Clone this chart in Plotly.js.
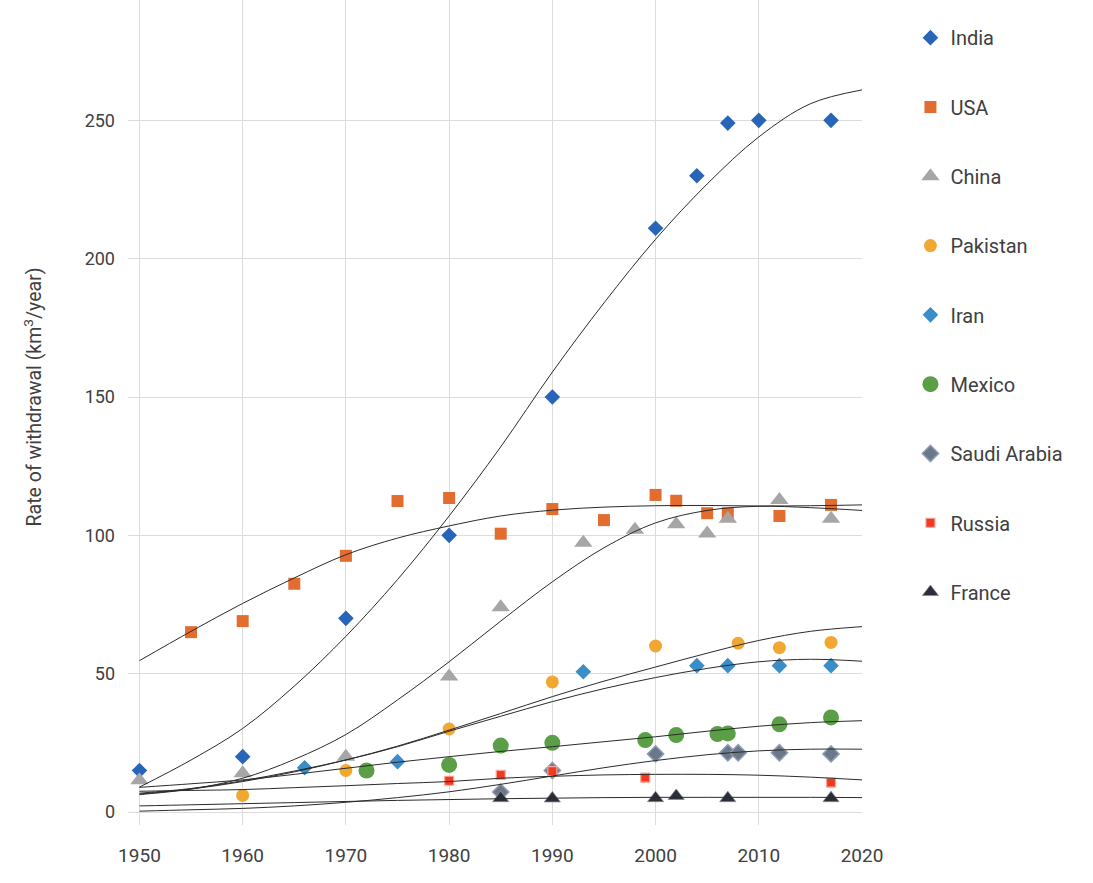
<!DOCTYPE html>
<html>
<head>
<meta charset="utf-8">
<script src="https://cdn.plot.ly/plotly-3.0.1.min.js"></script>
<style>
  html, body { margin: 0; padding: 0; background: #ffffff; }
  #chart { width: 1093px; height: 883px; }
</style>
</head>
<body>
<div id="chart"></div>
<script>
// ---- Data ----
const indiaYears = [1950, 1960, 1970, 1980, 1990, 2000, 2004, 2007, 2010, 2017];
const indiaVals  = [15, 20, 70, 100, 150, 211, 230, 249, 250, 250];

const usaYears = [1955, 1960, 1965, 1970, 1975, 1980, 1985, 1990, 1995, 2000, 2002, 2005, 2007, 2012, 2017];
const usaVals  = [65, 69, 82.5, 92.6, 112.4, 113.5, 100.6, 109.5, 105.5, 114.6, 112.5, 108, 108, 107, 111];

const chinaYears = [1950, 1960, 1970, 1980, 1985, 1993, 1998, 2002, 2005, 2007, 2012, 2017];
const chinaVals  = [11.5, 14, 20, 49, 74, 97.3, 102, 104, 100.7, 106, 112.8, 106];

const pakistanYears = [1960, 1970, 1980, 1990, 2000, 2008, 2012, 2017];
const pakistanVals  = [6, 15, 30, 47, 60, 61, 59.4, 61.3];

const iranYears = [1966, 1975, 1993, 2004, 2007, 2012, 2017];
const iranVals  = [16, 18.2, 50.7, 52.9, 52.9, 52.9, 52.9];

const mexicoYears = [1972, 1980, 1985, 1990, 1999, 2002, 2006, 2007, 2012, 2017];
const mexicoVals  = [15, 17, 24, 25, 26, 27.8, 28.2, 28.4, 31.7, 34.2];

const saudiYears = [1985, 1990, 2000, 2007, 2008, 2012, 2017];
const saudiVals  = [7.2, 15, 21, 21.4, 21.4, 21.4, 21];

const russiaYears = [1980, 1985, 1990, 1999, 2017];
const russiaVals  = [11.3, 13.4, 14.8, 12.4, 10.6];

const franceYears = [1985, 1990, 2000, 2002, 2007, 2017];
const franceVals  = [5, 4.9, 5, 5.8, 5, 5];

// Trend curves, every 5 years
const trendYears = [1950, 1955, 1960, 1965, 1970, 1975, 1980, 1985, 1990, 1995, 2000, 2005, 2010, 2015, 2020];
const indiaTrend    = [9, 18.8, 30.2, 45.5, 63.5, 84, 107, 132, 159, 184, 207, 227, 244, 256, 261];
const usaTrend      = [54.7, 65.3, 75.4, 84.6, 93, 99, 103.4, 107, 109.1, 110.2, 110.7, 110.8, 110.6, 110.7, 111];
const chinaTrend    = [6.3, 8.3, 12.2, 19, 28, 40.5, 54.3, 69, 83.2, 95.5, 104.5, 109, 110.5, 110, 109];
const pakistanTrend = [6.5, 8.3, 11, 14.5, 18.8, 23.8, 29.6, 35.6, 41.7, 47.3, 52.4, 57.4, 62, 65.3, 67];
const iranTrend     = [6.8, 8.5, 11.3, 14.8, 18.8, 23.6, 29.2, 34.6, 39.9, 44.6, 48.6, 51.9, 54.3, 55.2, 54.5];
const mexicoTrend   = [8.9, 10.2, 11.6, 13.6, 15.8, 18, 20, 21.9, 23.6, 25.4, 27.2, 29.2, 31, 32.3, 33];
const saudiTrend    = [0.3, 0.8, 1.3, 2.2, 3.5, 5.2, 7.3, 10, 13, 16, 18.6, 20.7, 22.1, 22.7, 22.7];
const russiaTrend   = [7.5, 7.8, 8.1, 8.8, 9.5, 10.3, 11, 12.2, 12.9, 13.4, 13.6, 13.6, 13.3, 12.6, 11.6];
const franceTrend   = [2.2, 2.6, 3.0, 3.4, 3.8, 4.2, 4.5, 4.8, 5.0, 5.2, 5.3, 5.3, 5.3, 5.3, 5.2];

const xTickVals = [1950, 1960, 1970, 1980, 1990, 2000, 2010, 2020];
const yTickVals = [0, 50, 100, 150, 200, 250];

// ---- Build traces ----
function pts(name, xs, ys, marker, grp) {
  return { type: 'scatter', mode: 'markers', name: name, x: xs, y: ys,
           marker: marker, legendgroup: grp, showlegend: true, hoverinfo: 'x+y+name' };
}
function trend(xs, ys) {
  return { type: 'scatter', mode: 'lines', x: xs, y: ys, showlegend: false,
           line: { color: '#2b2b2b', width: 1, shape: 'spline', smoothing: 1.0 }, hoverinfo: 'skip' };
}

const traces = [
  pts('India', indiaYears, indiaVals, { symbol: 'diamond', size: 12, color: '#2865b8' }, 'g1'),
  pts('USA', usaYears, usaVals, { symbol: 'square', size: 12, color: '#e36c2f' }, 'g2'),
  pts('China', chinaYears, chinaVals, { symbol: 'triangle-up', size: 16, color: '#a6a6a6' }, 'g3'),
  pts('Pakistan', pakistanYears, pakistanVals, { symbol: 'circle', size: 13, color: '#f0a832' }, 'g4'),
  pts('Iran', iranYears, iranVals, { symbol: 'diamond', size: 12, color: '#3b8dc8' }, 'g5'),
  pts('Mexico', mexicoYears, mexicoVals, { symbol: 'circle', size: 16, color: '#5a9e47' }, 'g6'),
  pts('Saudi Arabia', saudiYears, saudiVals, { symbol: 'diamond', size: 12.5, color: '#6b788b', line: { color: '#8f9bb0', width: 1.5 } }, 'g7'),
  pts('Russia', russiaYears, russiaVals, { symbol: 'square', size: 9, color: '#f23a22', line: { color: '#f7a896', width: 1.2 } }, 'g8'),
  pts('France', franceYears, franceVals, { symbol: 'triangle-up', size: 14, color: '#2a2e38', line: { color: '#8a8a8a', width: 0.8 } }, 'g9'),
  trend(trendYears, indiaTrend),
  trend(trendYears, usaTrend),
  trend(trendYears, chinaTrend),
  trend(trendYears, pakistanTrend),
  trend(trendYears, iranTrend),
  trend(trendYears, mexicoTrend),
  trend(trendYears, saudiTrend),
  trend(trendYears, russiaTrend),
  trend(trendYears, franceTrend)
];

const layout = {
  width: 1093, height: 883,
  paper_bgcolor: '#ffffff', plot_bgcolor: '#ffffff',
  margin: { l: 128, r: 231, t: 0, b: 58, pad: 0 },
  font: { family: 'Roboto, "Noto Sans", sans-serif', color: '#404040', size: 17 },
  showlegend: true,
  legend: {
    x: 1.066, xanchor: 'left', y: 0.978, yanchor: 'top',
    font: { family: 'Roboto, sans-serif', size: 20, color: '#404040' },
    tracegroupgap: 40.3, bgcolor: 'rgba(0,0,0,0)', itemclick: false
  },
  xaxis: {
    range: [1948.89, 2020], tickmode: 'array', tickvals: xTickVals,
    ticktext: xTickVals.map(String),
    showgrid: true, gridcolor: '#dcdcdc', gridwidth: 1,
    zeroline: false, showline: false, ticks: '',
    ticklabelstandoff: 17,
    tickfont: { family: '"Liberation Sans Narrow", Roboto, sans-serif', size: 19, color: '#404040' }
  },
  yaxis: {
    range: [-4.7, 293.5], tickmode: 'array', tickvals: yTickVals,
    showgrid: true, gridcolor: '#dcdcdc', gridwidth: 1,
    zeroline: false, showline: false, ticks: '',
    ticklabelstandoff: 12,
    tickfont: { family: 'Roboto, sans-serif', size: 18, color: '#404040' }
  },
  annotations: [{
    xref: 'paper', yref: 'paper', x: -0.13, y: 0.519,
    xanchor: 'center', yanchor: 'middle', textangle: -90, showarrow: false,
    text: 'Rate of withdrawal (km<sup>3</sup>/year)',
    font: { family: 'Roboto, sans-serif', size: 19.5, color: '#404040' }
  }]
};

Plotly.newPlot('chart', traces, layout, { displayModeBar: false, staticPlot: true });
</script>
</body>
</html>
